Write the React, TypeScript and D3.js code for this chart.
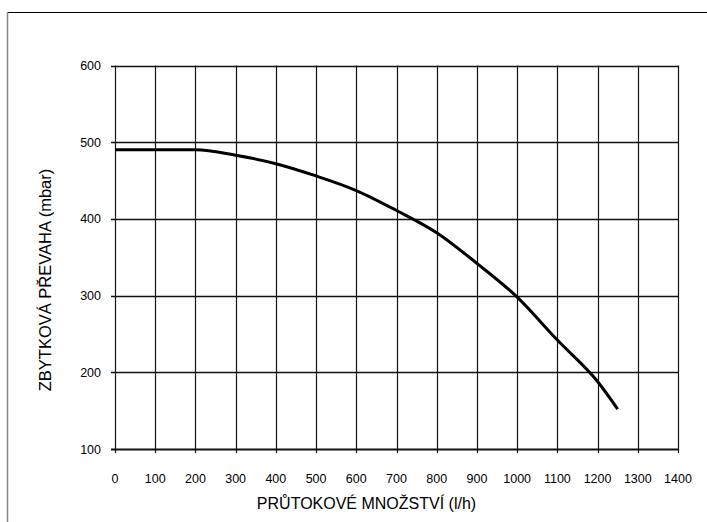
import React from "react";
import * as d3 from "d3";

// flow (l/h) and residual head (mbar)
const flow = [0, 200, 300, 400, 500, 600, 700, 800, 900, 1000, 1100, 1200, 1250];
const head = [490, 490, 483, 472, 456, 437, 411, 382, 342, 298, 242, 188, 152];

const xTicks = d3.range(0, 1401, 100);
const yTicks = [100, 200, 300, 400, 500, 600];

const xTitle = "PRŮTOKOVÉ MNOŽSTVÍ (l/h)";
const yTitle = "ZBYTKOVÁ PŘEVAHA (mbar)";

const W = 707;
const H = 522;
const FONT = "'Liberation Sans', Arial, Helvetica, sans-serif";

export default function App() {
  const x = d3.scaleLinear().domain([0, 1400]).range([115, 678]);
  const y = d3.scaleLinear().domain([100, 600]).range([449, 65.5]);

  const pts: [number, number][] = flow.map((f, i) => [f, head[i]]);
  const line = d3
    .line<[number, number]>()
    .x((d) => x(d[0]))
    .y((d) => y(d[1]))
    .curve(d3.curveMonotoneX);

  return (
    <svg
      width={W}
      height={H}
      style={{ position: "absolute", left: 0, top: 0, display: "block", background: "#fff" }}
    >
      {/* outer frame, cut off on the right and bottom */}
      <line x1={7} x2={W} y1={12.5} y2={12.5} stroke="#000" strokeWidth={1} />
      <line x1={7.5} x2={7.5} y1={12} y2={H} stroke="#888" strokeWidth={1.5} />

      {/* vertical grid + ticks */}
      {xTicks.map((t) => (
        <line
          key={"vx" + t}
          x1={Math.round(x(t)) + 0.5}
          x2={Math.round(x(t)) + 0.5}
          y1={y(600)}
          y2={y(100) + 4}
          stroke="#111"
          strokeWidth={1.2}
        />
      ))}
      {/* horizontal grid + ticks */}
      {yTicks.map((t) => (
        <line
          key={"hy" + t}
          x1={x(0) - 4}
          x2={x(1400) + 0.5}
          y1={Math.round(y(t)) + 0.5}
          y2={Math.round(y(t)) + 0.5}
          stroke="#111"
          strokeWidth={t === 100 ? 2 : 1.4}
        />
      ))}

      <path d={line(pts) || ""} fill="none" stroke="#000" strokeWidth={3} strokeLinejoin="round" />

      {/* tick labels */}
      {xTicks.map((t) => (
        <text
          key={"lx" + t}
          x={x(t)}
          y={483}
          textAnchor="middle"
          fontFamily={FONT}
          fontSize={12.5}
          fill="#000"
        >
          {t}
        </text>
      ))}
      {yTicks.map((t) => (
        <text
          key={"ly" + t}
          x={101}
          y={y(t) + 4.5}
          textAnchor="end"
          fontFamily={FONT}
          fontSize={12.5}
          fill="#000"
        >
          {t}
        </text>
      ))}

      {/* axis titles */}
      <text x={366.5} y={509} textAnchor="middle" fontFamily={FONT} fontSize={16} fill="#000">
        {xTitle}
      </text>
      <text
        transform="translate(51,280) rotate(-90)"
        textAnchor="middle"
        fontFamily={FONT}
        fontSize={16.5}
        fill="#000"
      >
        {yTitle}
      </text>
    </svg>
  );
}
